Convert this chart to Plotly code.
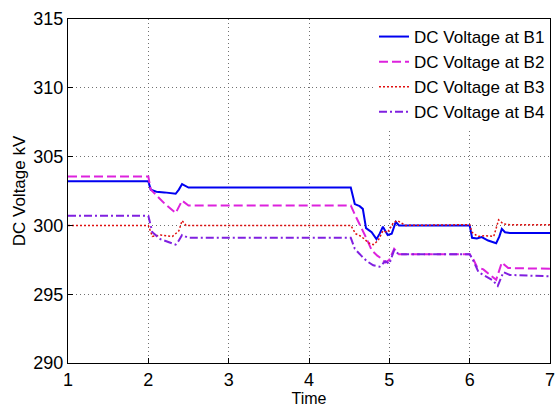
import plotly.graph_objects as go

# ---- data ----
t_b1 = [1, 2.0, 2.03, 2.1, 2.2, 2.34, 2.38, 2.42, 2.5, 4.52, 4.57, 4.63, 4.67, 4.71, 4.78, 4.84, 4.88,
        4.92, 4.95, 4.98, 5.03, 5.08, 5.12, 5.2, 6.0, 6.03, 6.09, 6.15, 6.23, 6.33, 6.37, 6.40, 6.44, 6.5, 7]
v_b1 = [303.2, 303.2, 302.6, 302.45, 302.4, 302.3, 302.6, 303.0, 302.75, 302.75, 301.55, 301.4, 301.2,
        299.8, 299.5, 299.0, 299.4, 299.9, 299.6, 299.3, 299.4, 300.25, 300.0, 300.0, 300.0, 299.1,
        299.05, 299.15, 298.9, 298.7, 299.2, 299.75, 299.5, 299.45, 299.45]

t_b2 = [1, 2.0, 2.03, 2.1, 2.2, 2.34, 2.38, 2.42, 2.5, 4.52, 4.57, 4.63, 4.72, 4.78, 4.85, 4.9, 4.95,
        5.0, 5.06, 5.12, 6.0, 6.04, 6.09, 6.17, 6.27, 6.33, 6.40, 6.48, 7]
v_b2 = [303.55, 303.55, 302.6, 302.2, 301.6, 300.9, 301.4, 301.8, 301.45, 301.45, 300.8, 300.1, 299.0,
        298.2, 297.8, 297.6, 297.3, 297.5, 298.3, 297.9, 297.9, 297.6, 297.0, 296.8, 296.3, 296.05,
        297.3, 296.9, 296.85]

t_b3 = [1, 2.0, 2.05, 2.15, 2.3, 2.38, 2.42, 2.47, 4.52, 4.58, 4.65, 4.75, 4.8, 4.86, 4.92, 4.98, 5.05,
        5.1, 5.2, 6.0, 6.03, 6.1, 6.2, 6.3, 6.36, 6.42, 6.5, 7]
v_b3 = [300.0, 300.0, 299.2, 299.3, 299.2, 299.6, 300.35, 300.0, 300.0, 299.4, 299.2, 298.7, 298.6,
        298.9, 299.6, 299.5, 300.2, 300.35, 300.0, 300.05, 299.5, 299.2, 299.25, 299.2, 300.4, 300.1,
        300.05, 300.05]

t_b4 = [1, 2.0, 2.05, 2.15, 2.34, 2.38, 2.42, 2.5, 4.52, 4.57, 4.65, 4.72, 4.8, 4.88, 4.95, 5.0, 5.06,
        5.12, 6.0, 6.04, 6.11, 6.19, 6.29, 6.35, 6.42, 6.5, 7]
v_b4 = [300.7, 300.7, 299.5, 299.0, 298.6, 298.9, 299.3, 299.1, 299.1, 298.3, 297.8, 297.4, 297.1,
        297.0, 297.4, 297.2, 298.2, 297.9, 297.9, 297.5, 296.6, 296.35, 296.0, 295.6, 296.6, 296.4, 296.3]

names = ["DC Voltage at B1", "DC Voltage at B2", "DC Voltage at B3", "DC Voltage at B4"]
x_ticks = [1, 2, 3, 4, 5, 6, 7]
y_ticks = [290, 295, 300, 305, 310, 315]

FONT = "Liberation Sans, Arial, Helvetica, sans-serif"

fig = go.Figure()
styles = [
    (t_b1, v_b1, "#0000F0", "solid", 2.0),
    (t_b2, v_b2, "#DD22DD", "9px,4px", 2.0),
    (t_b3, v_b3, "#E01010", "2px,2px", 1.5),
    (t_b4, v_b4, "#8020E0", "8px,3px,2px,3px", 2.0),
]
for (t, v, c, d, w), n in zip(styles, names):
    fig.add_trace(go.Scatter(x=t, y=v, mode="lines", name=n,
                             line=dict(color=c, dash=d, width=w)))

axis_common = dict(
    showline=True, linecolor="black", linewidth=1, mirror=True,
    ticks="inside", ticklen=5, tickcolor="black",
    showgrid=True, gridcolor="#707070", griddash="1px,3px", gridwidth=1,
    zeroline=False, tickfont=dict(family=FONT, size=18, color="black"),
    ticklabeloverflow="allow",
)

fig.update_layout(
    width=558, height=408,
    margin=dict(l=68, r=3, t=19, b=43),
    paper_bgcolor="white", plot_bgcolor="white",
    font=dict(family=FONT, color="black"),
    xaxis=dict(range=[1, 7], tickvals=x_ticks,
               title=dict(text="Time", font=dict(family=FONT, size=16), standoff=4),
               **axis_common),
    yaxis=dict(range=[290, 315], tickvals=y_ticks,
               title=dict(text="DC Voltage kV", font=dict(family=FONT, size=17), standoff=3),
               **axis_common),
    legend=dict(x=1.0, xanchor="right", y=1.0, yanchor="top",
                bgcolor="white", borderwidth=0,
                font=dict(family=FONT, size=17, color="black"),
                tracegroupgap=0, itemwidth=30),
    showlegend=True,
)

fig.write_html("out.html")
